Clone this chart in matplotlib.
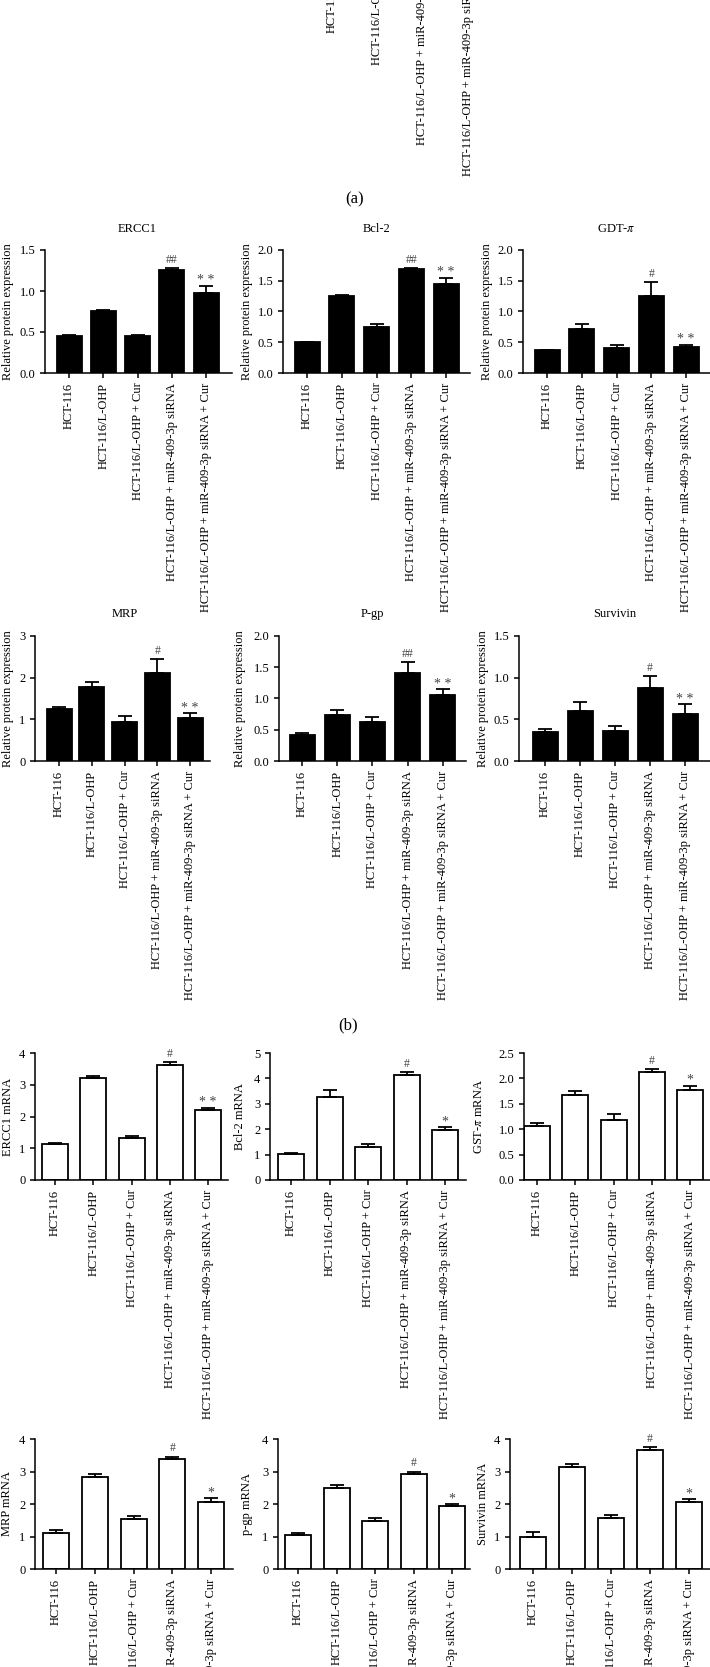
import numpy as np
import matplotlib as mpl
import matplotlib.pyplot as plt

mpl.rcParams.update({
    "font.family": "serif",
    "font.serif": ["Liberation Serif", "DejaVu Serif"],
    "mathtext.fontset": "stix",
    "font.size": 9,
    "axes.linewidth": 1.1,
    "xtick.major.width": 1.1,
    "ytick.major.width": 1.1,
    "xtick.major.size": 3.5,
    "ytick.major.size": 3.5,
    "axes.spines.top": False,
    "axes.spines.right": False,
})

W, H = 710, 1667

# -----------------------------------------------------------------------------
# Data
# -----------------------------------------------------------------------------
groups = ["HCT-116", "HCT-116/L-OHP", "HCT-116/L-OHP + Cur",
          "HCT-116/L-OHP + miR-409-3p siRNA",
          "HCT-116/L-OHP + miR-409-3p siRNA + Cur"]

# (b) relative protein expression
ercc1_prot = [0.45, 0.75, 0.45, 1.25, 0.97]
ercc1_prot_err = [0.01, 0.02, 0.01, 0.03, 0.09]
ercc1_prot_sig = ["", "", "", "##", "**"]

bcl2_prot = [0.50, 1.26, 0.75, 1.69, 1.45]
bcl2_prot_err = [0.01, 0.01, 0.05, 0.02, 0.10]
bcl2_prot_sig = ["", "", "", "##", "**"]

gdt_prot = [0.37, 0.72, 0.41, 1.25, 0.43]
gdt_prot_err = [0.01, 0.07, 0.04, 0.23, 0.03]
gdt_prot_sig = ["", "", "", "#", "**"]

mrp_prot = [1.25, 1.78, 0.93, 2.10, 1.03]
mrp_prot_err = [0.04, 0.12, 0.14, 0.35, 0.11]
mrp_prot_sig = ["", "", "", "#", "**"]

pgp_prot = [0.41, 0.74, 0.63, 1.40, 1.05]
pgp_prot_err = [0.04, 0.08, 0.08, 0.19, 0.10]
pgp_prot_sig = ["", "", "", "##", "**"]

surv_prot = [0.35, 0.60, 0.36, 0.87, 0.56]
surv_prot_err = [0.03, 0.11, 0.06, 0.15, 0.12]
surv_prot_sig = ["", "", "", "#", "**"]

# mRNA
ercc1_mrna = [1.12, 3.20, 1.33, 3.63, 2.20]
ercc1_mrna_err = [0.04, 0.09, 0.07, 0.08, 0.08]
ercc1_mrna_sig = ["", "", "", "#", "**"]

bcl2_mrna = [1.03, 3.28, 1.30, 4.14, 1.97]
bcl2_mrna_err = [0.05, 0.27, 0.10, 0.10, 0.12]
bcl2_mrna_sig = ["", "", "", "#", "*"]

gst_mrna = [1.06, 1.68, 1.19, 2.13, 1.78]
gst_mrna_err = [0.06, 0.08, 0.11, 0.05, 0.08]
gst_mrna_sig = ["", "", "", "#", "*"]

mrp_mrna = [1.12, 2.82, 1.55, 3.38, 2.05]
mrp_mrna_err = [0.08, 0.11, 0.08, 0.08, 0.12]
mrp_mrna_sig = ["", "", "", "#", "*"]

pgp_mrna = [1.05, 2.50, 1.48, 2.92, 1.95]
pgp_mrna_err = [0.06, 0.08, 0.10, 0.08, 0.06]
pgp_mrna_sig = ["", "", "", "#", "*"]

surv_mrna = [1.00, 3.15, 1.58, 3.67, 2.07]
surv_mrna_err = [0.15, 0.08, 0.07, 0.08, 0.08]
surv_mrna_sig = ["", "", "", "#", "*"]

fig = plt.figure(figsize=(W / 100, H / 100), dpi=100)


def bar_panel(geom, vals, errs, sig, ymax, ystep, ylabel, ylab_x,
              title=None, title_y=None, filled=True, bar_px=25):
    L, top, bot, c0, s, R = geom
    ax = fig.add_axes([L / W, 1 - bot / H, (R - L) / W, (bot - top) / H])
    x = np.arange(len(vals))
    ax.bar(x, vals, width=bar_px / s, color="black" if filled else "white",
           edgecolor="black", lw=1.3, zorder=2)
    ax.errorbar(x, vals, yerr=[np.zeros(len(vals)), errs], fmt="none",
                ecolor="black", elinewidth=1.3, capsize=5, capthick=1.3,
                zorder=3)
    for i, m in enumerate(sig):
        if not m:
            continue
        if m.startswith("*"):
            # stars sit high in the serif font, so draw them a bit larger and spaced
            ax.annotate(" ".join(m), (i, vals[i] + errs[i]), xytext=(0, -1),
                        textcoords="offset points", ha="center", va="bottom",
                        fontsize=10, color="#444444")
        else:
            ax.annotate(m, (i, vals[i] + errs[i]), xytext=(0, 1.5),
                        textcoords="offset points", ha="center", va="bottom",
                        fontsize=8.5, color="#444444")
    ax.set_xlim((L - c0) / s, (R - c0) / s)
    ax.set_ylim(0, ymax)
    ticks = np.arange(0, ymax + ystep / 2, ystep)
    ax.set_yticks(ticks)
    if ystep < 1:
        ax.set_yticklabels([f"{t:.1f}" for t in ticks])
    else:
        ax.set_yticklabels([f"{t:.0f}" for t in ticks])
    ax.set_xticks(x)
    ax.set_xticklabels(groups, rotation=90)
    ax.set_ylabel(ylabel, va="center")
    ax.yaxis.set_label_coords((ylab_x - L) / (R - L), 0.5)
    if title:
        fig.text((c0 + 2 * s) / W, 1 - title_y / H, title, ha="center",
                 va="center", fontsize=9)
    return ax


# (a) bottom of the cropped blot panel: only its lower tick labels are visible
ax_a = fig.add_axes([(286 - 0.5 * 45.5) / W, 1 + 57 / H, 5 * 45.5 / W, 100 / H])
ax_a.set_frame_on(False)
ax_a.set_xlim(-0.5, 4.5)
ax_a.set_xticks(np.arange(5))
ax_a.set_xticklabels(groups, rotation=90)
ax_a.set_yticks([])
ax_a.tick_params(axis="x", length=0, pad=3)
fig.text(355 / W, 1 - 199 / H, "(a)", ha="center", va="center", fontsize=12)

prot_lab = "Relative protein expression"

# (b) row 1
bar_panel((45, 250, 373, 69, 34.3, 232), ercc1_prot, ercc1_prot_err,
          ercc1_prot_sig, 1.5, 0.5, prot_lab, 8, "ERCC1", 229)
bar_panel((283, 250, 373, 307, 34.8, 470), bcl2_prot, bcl2_prot_err,
          bcl2_prot_sig, 2.0, 0.5, prot_lab, 247, "Bcl-2", 229)
bar_panel((523, 250, 373, 547, 34.8, 710), gdt_prot, gdt_prot_err,
          gdt_prot_sig, 2.0, 0.5, prot_lab, 487, r"GDT-$\pi$", 229)

# (b) row 2
bar_panel((35, 636, 761, 59, 32.8, 210), mrp_prot, mrp_prot_err,
          mrp_prot_sig, 3, 1, prot_lab, 8, "MRP", 614)
bar_panel((279, 636, 761, 302, 35.2, 466), pgp_prot, pgp_prot_err,
          pgp_prot_sig, 2.0, 0.5, prot_lab, 240, "P-gp", 614)
bar_panel((519, 636, 761, 545, 35.0, 710), surv_prot, surv_prot_err,
          surv_prot_sig, 1.5, 0.5, prot_lab, 483, "Survivin", 614)

fig.text(348 / W, 1 - 1025 / H, "(b)", ha="center", va="center", fontsize=12)

# mRNA row 1
bar_panel((35, 1053, 1180, 55, 38.3, 228), ercc1_mrna, ercc1_mrna_err,
          ercc1_mrna_sig, 4, 1, "ERCC1 mRNA", 8, filled=False, bar_px=26)
bar_panel((270, 1053, 1180, 291, 38.5, 466), bcl2_mrna, bcl2_mrna_err,
          bcl2_mrna_sig, 5, 1, "Bcl-2 mRNA", 240, filled=False, bar_px=26)
bar_panel((524, 1053, 1180, 537, 38.3, 710), gst_mrna, gst_mrna_err,
          gst_mrna_sig, 2.5, 0.5, r"GST-$\pi$ mRNA", 479, filled=False,
          bar_px=26)

# mRNA row 2
bar_panel((35, 1439, 1569, 56, 38.8, 233), mrp_mrna, mrp_mrna_err,
          mrp_mrna_sig, 4, 1, "MRP mRNA", 7, filled=False, bar_px=26)
bar_panel((278, 1439, 1569, 298, 38.5, 470), pgp_mrna, pgp_mrna_err,
          pgp_mrna_sig, 4, 1, "p-gp mRNA", 247, filled=False, bar_px=26)
bar_panel((510, 1439, 1569, 533, 39.0, 710), surv_mrna, surv_mrna_err,
          surv_mrna_sig, 4, 1, "Survivin mRNA", 483, filled=False, bar_px=26)

fig.savefig("out.png", dpi=100)
